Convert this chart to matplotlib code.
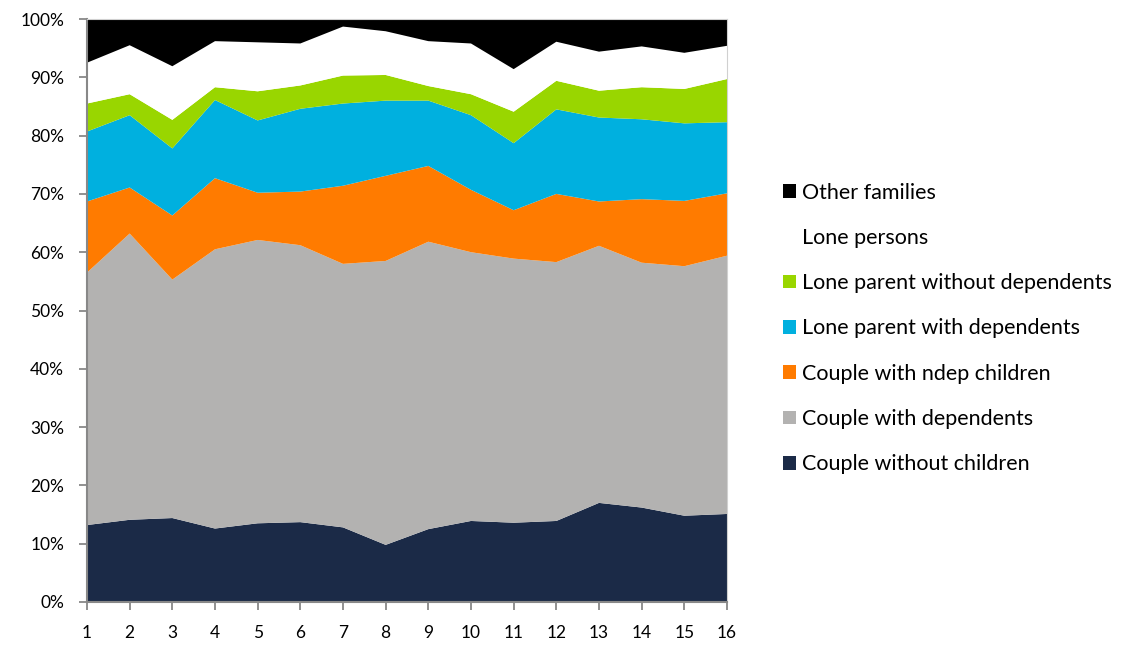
import matplotlib
matplotlib.use("Agg")
import matplotlib.pyplot as plt
from matplotlib.patches import Patch
from matplotlib.ticker import PercentFormatter

periods = list(range(1, 17))

# Share of each family type per period (%)
couple_without_children = [13.2, 14.1, 14.4, 12.6, 13.5, 13.7, 12.8, 9.8, 12.5, 13.9, 13.6, 13.9, 17.0, 16.2, 14.8, 15.1]
couple_with_dependents = [43.3, 49.1, 40.9, 47.9, 48.6, 47.5, 45.2, 48.7, 49.3, 46.1, 45.3, 44.4, 44.1, 42.0, 42.8, 44.3]
couple_with_ndep_children = [12.2, 7.9, 11.0, 12.2, 8.1, 9.2, 13.4, 14.6, 13.0, 10.7, 8.3, 11.7, 7.6, 10.9, 11.2, 10.7]
lone_parent_with_dependents = [12.0, 12.4, 11.5, 13.4, 12.4, 14.2, 14.1, 12.9, 11.2, 12.8, 11.5, 14.5, 14.4, 13.7, 13.3, 12.2]
lone_parent_without_dependents = [4.8, 3.6, 4.9, 2.2, 5.0, 4.0, 4.8, 4.4, 2.5, 3.6, 5.4, 4.9, 4.6, 5.5, 5.9, 7.4]
lone_persons = [7.0, 8.4, 9.2, 7.9, 8.4, 7.2, 8.4, 7.5, 7.7, 8.7, 7.3, 6.7, 6.7, 7.0, 6.2, 5.7]
other_families = [7.5, 4.5, 8.1, 3.8, 4.0, 4.2, 1.3, 2.1, 3.8, 4.2, 8.6, 3.9, 5.6, 4.7, 5.8, 4.6]

series_labels = [
    "Couple without children",
    "Couple with dependents",
    "Couple with ndep children",
    "Lone parent with dependents",
    "Lone parent without dependents",
    "Lone persons",
    "Other families",
]
series_values = [
    couple_without_children,
    couple_with_dependents,
    couple_with_ndep_children,
    lone_parent_with_dependents,
    lone_parent_without_dependents,
    lone_persons,
    other_families,
]
colors = ["#1B2A47", "#B3B2B1", "#FF7B00", "#00B0DF", "#99D600", "#FFFFFF", "#000000"]

plt.rcParams["font.family"] = ["Lato", "DejaVu Sans"]

fig = plt.figure(figsize=(11.32, 6.45), dpi=100)
ax = fig.add_axes([87 / 1132, 1 - 602 / 645, (727 - 87) / 1132, (602 - 19) / 645])

ax.stackplot(periods, *series_values, colors=colors, linewidth=0)

ax.set_xlim(1, 16)
ax.set_ylim(0, 100)
ax.set_xticks(periods)
ax.set_yticks(range(0, 101, 10))
ax.yaxis.set_major_formatter(PercentFormatter(decimals=0))

axis_grey = "#888888"
for side in ("left", "bottom"):
    ax.spines[side].set_color(axis_grey)
    ax.spines[side].set_linewidth(1.5)
for side in ("top", "right"):
    ax.spines[side].set_color("#D0D0D0")
    ax.spines[side].set_linewidth(0.8)

ax.tick_params(axis="both", direction="out", length=5.5, width=1.3, color=axis_grey,
               labelsize=12.5, labelcolor="#000000")
ax.tick_params(axis="y", pad=11)
ax.tick_params(axis="x", pad=11)

handles = [Patch(facecolor=c, edgecolor="none") for c in colors]
leg = fig.legend(
    handles[::-1], series_labels[::-1],
    loc="upper left", bbox_to_anchor=(774 / 1132, 1 - 174 / 645),
    frameon=False, fontsize=15.5, handlelength=0.6, handleheight=0.6,
    handletextpad=0.3, labelspacing=1.175, borderaxespad=0,
)

fig.savefig("out.png", dpi=100)
